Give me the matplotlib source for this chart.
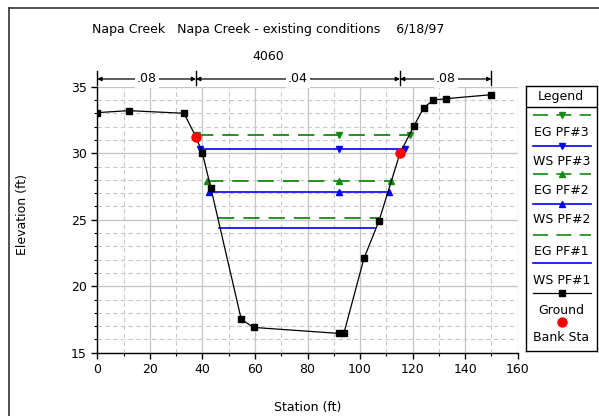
import numpy as np
import matplotlib.pyplot as plt
from matplotlib.lines import Line2D
from matplotlib.ticker import MultipleLocator

plt.rcParams['font.family'] = ['DejaVu Sans']
plt.rcParams['font.size'] = 9

# ground cross section
ground_sta = [0.0, 12.0, 33.0, 37.6, 40.0, 43.2, 54.8, 59.5, 92.0, 93.9,
              101.5, 107.2, 115.2, 120.5, 124.2, 127.9, 132.8, 150.0]
ground_elev = [33.05, 33.2, 33.0, 31.2, 30.0, 27.4, 17.5, 16.9, 16.45, 16.5,
               22.1, 24.9, 30.0, 32.05, 33.4, 34.0, 34.1, 34.4]

bank_sta = [37.6, 115.2]
bank_elev = [31.2, 30.0]

# water surface / energy grade lines (left edge, mid, right edge)
eg3_sta = [37.8, 92.1, 119.0]
eg3_elev = [31.4, 31.4, 31.4]
ws3_sta = [39.1, 92.1, 117.1]
ws3_elev = [30.32, 30.32, 30.32]
eg2_sta = [41.6, 92.1, 111.7]
eg2_elev = [27.93, 27.93, 27.93]
ws2_sta = [42.6, 92.1, 110.9]
ws2_elev = [27.06, 27.06, 27.06]
eg1_sta = [46.1, 107.2]
eg1_elev = [25.1, 25.1]
ws1_sta = [46.4, 105.7]
ws1_elev = [24.4, 24.4]

# manning's n regions
n_edges = [0.0, 37.6, 115.2, 150.0]
n_values = ['.08', '.04', '.08']

green = '#138a13'
blue = '#0000ff'

W, H = 599, 416
fig = plt.figure(figsize=(W / 100, H / 100), dpi=100)
ax = fig.add_axes([97.3 / W, 1 - 352.7 / H, (517.7 - 97.3) / W, (352.7 - 86.7) / H])

ax.set_xlim(0, 160)
ax.set_ylim(15, 35)
ax.xaxis.set_major_locator(MultipleLocator(20))
ax.xaxis.set_minor_locator(MultipleLocator(10))
ax.yaxis.set_major_locator(MultipleLocator(5))
ax.yaxis.set_minor_locator(MultipleLocator(1))
ax.grid(which='major', color='#c4c4c4', lw=0.9, ls='-')
ax.grid(which='minor', color='#c8c8c8', lw=0.8, ls=(0, (4, 3)))
ax.set_axisbelow(True)
for s in ['top', 'right']:
    ax.spines[s].set_visible(False)
for s in ['left', 'bottom']:
    ax.spines[s].set_linewidth(1.0)
ax.tick_params(which='major', direction='out', length=4, width=1)
ax.tick_params(which='minor', direction='out', length=2, width=0.8)

dash = (0, (9, 5))
ax.plot(eg3_sta, eg3_elev, color=green, lw=1.3, ls=dash, marker='v', ms=5)
ax.plot(ws3_sta, ws3_elev, color=blue, lw=1.2, marker='v', ms=5)
ax.plot(eg2_sta, eg2_elev, color=green, lw=1.3, ls=dash, marker='^', ms=5)
ax.plot(ws2_sta, ws2_elev, color=blue, lw=1.2, marker='^', ms=5)
ax.plot(eg1_sta, eg1_elev, color=green, lw=1.3, ls=dash)
ax.plot(ws1_sta, ws1_elev, color=blue, lw=1.2)
ax.plot(ground_sta, ground_elev, color='black', lw=0.9, marker='s', ms=4)
ax.plot(bank_sta, bank_elev, ls='none', marker='o', color='red', ms=6.5)

# n value annotations above the plot
y_arr = 35.58
for x0 in n_edges:
    ax.plot([x0, x0], [35.12, 36.15], color='black', lw=1, clip_on=False)
for i, lab in enumerate(n_values):
    a, b = n_edges[i], n_edges[i + 1]
    ax.annotate('', xy=(a, y_arr), xytext=(b, y_arr), annotation_clip=False,
                arrowprops=dict(arrowstyle='<|-|>', lw=0.9, color='black',
                                mutation_scale=6, shrinkA=0, shrinkB=0))
    ax.text((a + b) / 2, y_arr, lab, ha='center', va='center',
            bbox=dict(facecolor='white', edgecolor='none', pad=1.5), clip_on=False)

ax.set_xlabel('Station (ft)', labelpad=18)
ax.set_ylabel('Elevation (ft)')
ax.yaxis.set_label_coords(-0.162, 0.518)

fig.text(268 / W, 1 - 30 / H, 'Napa Creek   Napa Creek - existing conditions    6/18/97',
         ha='center', va='center')
fig.text(268 / W, 1 - 57 / H, '4060', ha='center', va='center')

# outer frame (left and top edges)
fig.add_artist(Line2D([9 / W, 9 / W], [0, 1 - 8 / H], color='#333333', lw=1.2,
                      transform=fig.transFigure))
fig.add_artist(Line2D([9 / W, 1], [1 - 8 / H, 1 - 8 / H], color='#333333', lw=1.2,
                      transform=fig.transFigure))

# legend panel
lg = fig.add_axes([525.7 / W, 1 - 350.7 / H, (596.7 - 525.7) / W, (350.7 - 86) / H])
lg.set_xlim(525.7, 596.7)
lg.set_ylim(350.7, 86)
lg.set_xticks([])
lg.set_yticks([])
for s in lg.spines.values():
    s.set_linewidth(1.0)
lg.axhline(107.3, color='black', lw=1.0)
lg.text(561.2, 96.5, 'Legend', ha='center', va='center')

entries = [
    ('EG PF#3', green, dash, 'v', 115, 132.3),
    ('WS PF#3', blue, '-', 'v', 145.7, 161.7),
    ('EG PF#2', green, dash, '^', 174.3, 190),
    ('WS PF#2', blue, '-', '^', 204.3, 219.3),
    ('EG PF#1', green, dash, None, 235, 251.7),
    ('WS PF#1', blue, '-', None, 263.3, 280.7),
]
lx = [532.7, 561.7, 590.7]
for lab, col, ls, mk, yl, yt in entries:
    lg.plot(lx, [yl] * 3, color=col, ls=ls, lw=1.2, marker=mk, ms=5, markevery=[1])
    lg.text(561.2, yt, lab, ha='center', va='center')
lg.plot(lx, [292.7] * 3, color='black', lw=0.9, marker='s', ms=4, markevery=[1])
lg.text(561.2, 310, 'Ground', ha='center', va='center')
lg.plot([561.7], [321.7], ls='none', marker='o', color='red', ms=6.5)
lg.text(561.2, 337.3, 'Bank Sta', ha='center', va='center')

fig.savefig('out.png', dpi=100)
